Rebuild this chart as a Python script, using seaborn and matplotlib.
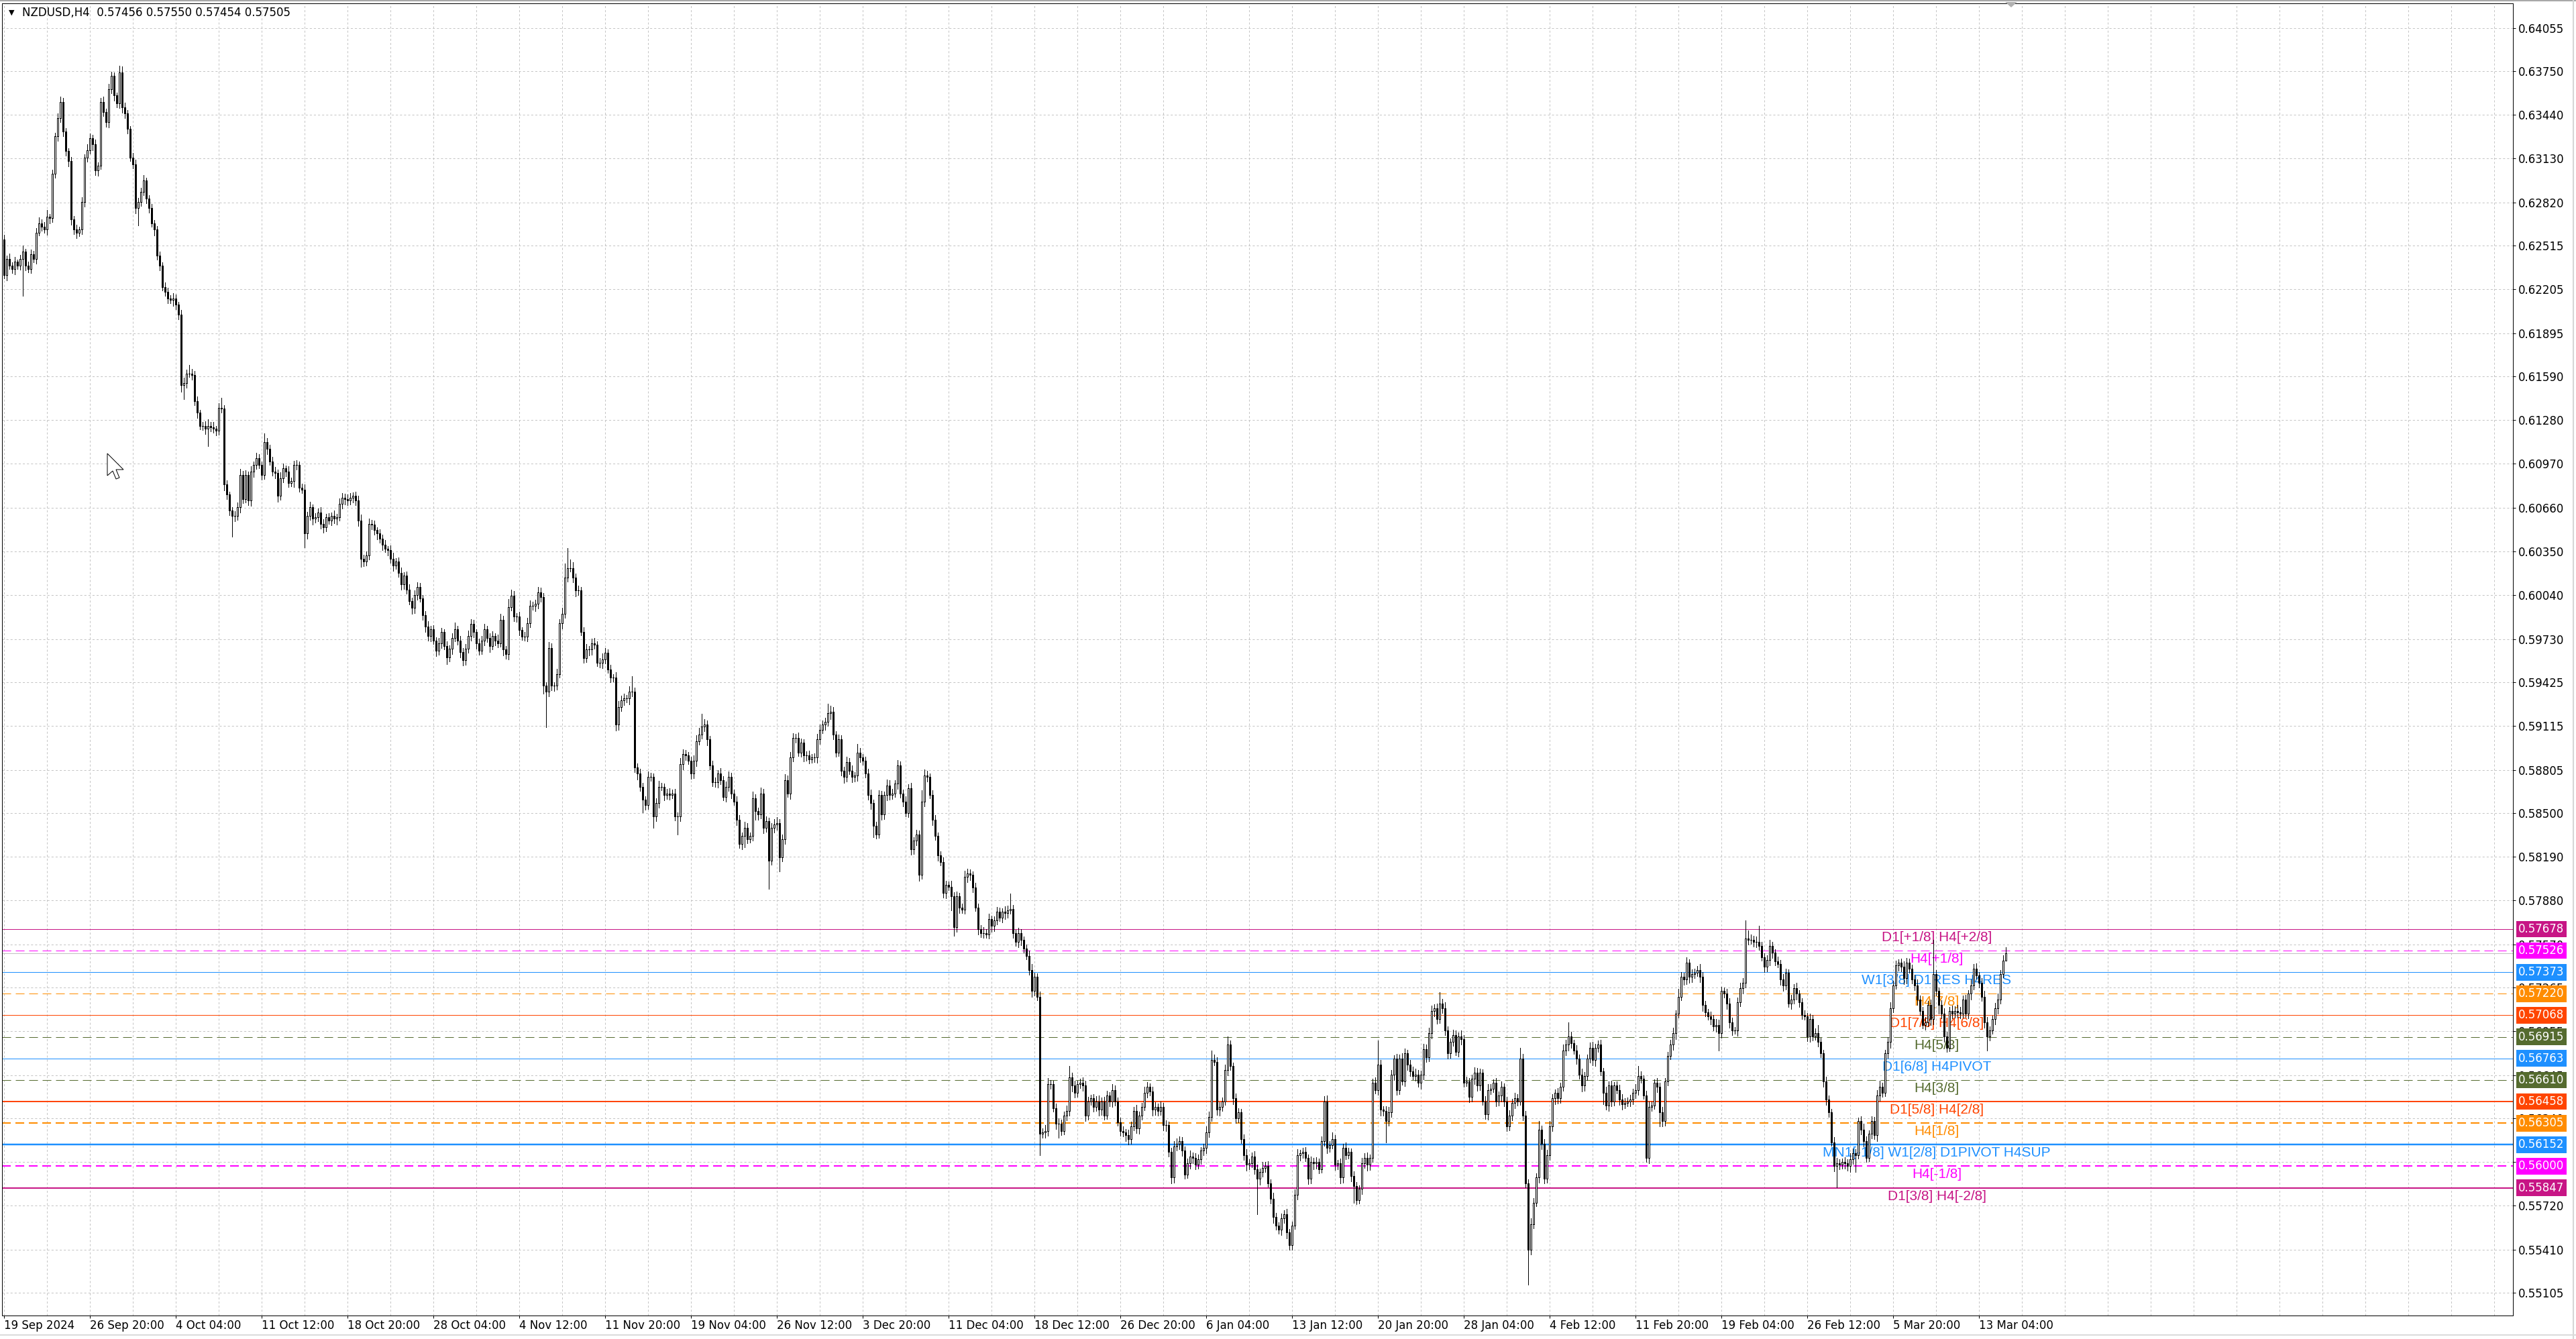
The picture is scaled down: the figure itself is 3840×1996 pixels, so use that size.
import matplotlib
matplotlib.use("Agg")
import matplotlib.pyplot as plt
import numpy as np
import seaborn as sns
from matplotlib.ticker import MultipleLocator
from matplotlib.transforms import blended_transform_factory
from matplotlib.patches import Polygon
from matplotlib.lines import Line2D

# ---- data (prices in points, 1 point = 0.00001) ----
chart_title = "NZDUSD,H4  0.57456 0.57550 0.57454 0.57505"
first_open = 62560

closes = [
    62304, 62420, 62374, 62351, 62400, 62374, 62420, 62470, 62374, 62351,
    62455, 62420, 62605, 62674, 62650, 62628, 62720, 62710, 63021, 63287,
    63415, 63530, 63322, 63183, 63114, 62698, 62628, 62605, 62628, 62825,
    63137, 63190, 63276, 63230, 63045, 63080, 63530, 63460, 63390, 63623,
    63715, 63577, 63520, 63738, 63495, 63450, 63340, 63137, 63091, 62779,
    62825, 62894, 62975, 62848, 62779, 62674, 62628, 62444, 62374, 62223,
    62189, 62142, 62130, 62142, 62096, 62027, 61529, 61541, 61610, 61610,
    61600, 61414, 61333, 61240, 61240, 61217, 61240, 61230, 61217, 61206,
    61368, 61360, 60824, 60755, 60639, 60604, 60604, 60662, 60893, 60720,
    60893, 60709, 60917, 60963, 61009, 60963, 60893, 61125, 61078, 60986,
    60917, 60905, 60743, 60870, 60940, 60917, 60836, 60847, 60963, 60963,
    60801, 60789, 60477, 60604, 60662, 60581, 60593, 60628, 60547, 60523,
    60593, 60570, 60604, 60581, 60593, 60686, 60732, 60720, 60709, 60732,
    60743, 60709, 60570, 60300, 60280, 60320, 60547, 60540, 60500, 60477,
    60442, 60396, 60370, 60361, 60300, 60250, 60280, 60200, 60120, 60180,
    60080, 60000, 59950, 60040, 60100, 60020, 59900, 59820, 59750, 59800,
    59720, 59650, 59700, 59780, 59680, 59600, 59660, 59740, 59800, 59720,
    59640, 59580, 59660, 59750, 59840, 59780, 59700, 59650, 59720, 59800,
    59740, 59680, 59750, 59720, 59702, 59864, 59656, 59622, 59957, 60038,
    59888, 59888, 59795, 59749, 59749, 59841, 59968, 59968, 59980, 60061,
    60026, 59402, 59356, 59668, 59402, 59402, 59483, 59841, 59911, 60165,
    60234, 60234, 60165, 60073, 60073, 59783, 59598, 59656, 59656, 59702,
    59691, 59564, 59564, 59587, 59633, 59517, 59460, 59460, 59124, 59251,
    59298, 59309, 59309, 59356, 59356, 58824, 58777, 58685, 58592, 58558,
    58754, 58754, 58477, 58569, 58685, 58685, 58627, 58638, 58627, 58638,
    58477, 58477, 58847, 58916, 58905, 58870, 58777, 58870, 59009, 59055,
    59113, 59124, 59020, 58835, 58719, 58719, 58777, 58731, 58615, 58685,
    58754, 58638, 58581, 58453, 58280, 58338, 58396, 58315, 58338, 58604,
    58511, 58488, 58638, 58396, 58442, 58164, 58396, 58419, 58430, 58187,
    58315, 58731, 58638, 58893, 59032, 59032, 58928, 58997, 58905, 58905,
    58881, 58893, 58893, 59020, 59090, 59124, 59147, 59205, 59217, 59055,
    58928, 59020, 58800, 58754, 58858, 58800, 58754, 58766, 58928, 58893,
    58870, 58777, 58627, 58569, 58407, 58349, 58627, 58488, 58627, 58696,
    58627, 58638, 58708, 58835, 58638, 58581, 58500, 58673, 58245, 58303,
    58349, 58060, 58581, 58766, 58754, 58627, 58453, 58338, 58199, 58153,
    57933, 57991, 57979, 57910, 57690, 57910, 57829, 57817, 58049, 58072,
    58060, 57970, 57830, 57680, 57650, 57650, 57640, 57750, 57700, 57740,
    57800, 57760, 57800, 57790, 57810, 57820, 57650, 57590, 57650, 57600,
    57540, 57490, 57390, 57240, 57340, 57200, 56230, 56240, 56250, 56580,
    56580, 56410, 56300, 56300, 56250, 56360, 56390, 56630, 56570, 56520,
    56580, 56590, 56570, 56360, 56460, 56480, 56420, 56460, 56400, 56460,
    56360, 56500, 56460, 56540, 56460, 56310, 56250, 56240, 56220, 56190,
    56280, 56390, 56270, 56360, 56420, 56520, 56560, 56530, 56400, 56420,
    56390, 56420, 56290, 56290, 56100, 55920, 56140, 56160, 56180, 56110,
    55940, 56020, 56070, 56060, 56010, 56050, 56110, 56130, 56240, 56350,
    56750, 56740, 56400, 56420, 56460, 56680, 56860, 56710, 56480, 56340,
    56380, 56190, 56080, 56010, 56020, 56070, 55980, 55910, 55960, 55990,
    56000, 55880, 55770, 55640, 55580, 55550, 55630, 55660, 55530, 55440,
    55580, 55800, 56080, 56090, 56100, 56060, 55910, 56030, 56020, 56030,
    55980, 56180, 56460, 56130, 56150, 56190, 56010, 56020, 55920, 56130,
    56080, 56100, 55930, 55860, 55760, 55840, 56020, 56060, 56010, 56060,
    56590, 56540, 56720, 56400, 56390, 56320, 56380, 56650, 56760, 56540,
    56760, 56600, 56800, 56720, 56670, 56640, 56650, 56590, 56650, 56830,
    56770, 56940, 57100, 57120, 57040, 57150, 57120, 56960, 56800, 56880,
    56930, 56810, 56920, 56900, 56590, 56600, 56490, 56620, 56660, 56570,
    56660, 56460, 56370, 56540, 56550, 56590, 56460, 56500, 56560, 56460,
    56280, 56360, 56450, 56480, 56460, 56760, 56360, 55880, 55410, 55590,
    55740, 55920, 56260, 56160, 55910, 56080, 56280, 56480, 56520, 56480,
    56560, 56820, 56860, 56920, 56870, 56820, 56760, 56650, 56570, 56640,
    56760, 56840, 56750, 56840, 56860, 56670, 56520, 56430, 56570, 56460,
    56570, 56540, 56470, 56440, 56450, 56460, 56470, 56520, 56540, 56640,
    56620, 56500, 56060, 56420, 56430, 56590, 56560, 56380, 56320, 56600,
    56780, 56860, 56940, 57080, 57200, 57340, 57320, 57440, 57340, 57360,
    57370, 57390, 57340, 57140, 57090, 57060, 57040, 56990, 57000, 56940,
    57240, 57220, 57150, 57020, 56960, 56960, 57160, 57260, 57300, 57610,
    57600, 57600, 57590, 57590, 57560, 57480, 57410, 57460, 57560, 57510,
    57450, 57430, 57320, 57280, 57370, 57150, 57180, 57260, 57220, 57160,
    57070, 57060, 56920, 57040, 56920, 56940, 56880, 56800, 56600, 56470,
    56380, 56170, 56000, 56020, 56010, 56030, 56020, 56000, 56050, 56090,
    56080, 56320, 56260, 56180, 56060, 56230, 56320, 56220, 56500, 56560,
    56520, 56800, 56880, 57120, 57280, 57420, 57440, 57410, 57330, 57440,
    57400, 57320, 57280, 57180, 57100, 57000, 57020, 57140, 57040, 57360,
    57240, 57140, 57080, 56920, 56840, 57100, 57080, 57100, 57090, 57080,
    57180, 57080, 57220, 57280, 57400, 57350, 57300, 57200, 57020, 56920,
    56960, 57040, 57120, 57180, 57360, 57456, 57505,
]

upper_wick = [
    30, 25, 40, 20, 35, 15, 30, 45, 20, 25,
    30, 20, 35, 40, 25, 30, 45, 20, 30, 25,
    35, 40, 30, 25, 20, 30, 25, 35, 20, 30,
    25, 40, 30, 20, 35, 25, 30, 40, 25, 35,
    30, 25, 20, 50, 45, 30, 25, 20, 35, 30,
    25, 30, 40, 20, 25, 30, 20, 25, 30, 20,
    30, 25, 20, 35, 25, 20, 30, 40, 25, 60,
    30, 25, 35, 20, 25, 30, 45, 25, 35, 20,
    30, 70, 25, 30, 20, 25, 30, 35, 40, 25,
    30, 20, 35, 25, 40, 30, 25, 60, 30, 25,
    35, 30, 25, 40, 30, 20, 35, 25, 30, 35,
    25, 30, 35, 25, 40, 20, 30, 25, 35, 30,
    25, 30, 20, 35, 25, 40, 30, 25, 35, 30,
    25, 30, 35, 40, 25, 30, 35, 25, 30, 20,
    30, 25, 35, 20, 30, 40, 25, 30, 35, 25,
    30, 40, 25, 35, 30, 25, 20, 30, 35, 25,
    30, 25, 40, 30, 20, 35, 25, 30, 45, 25,
    30, 25, 35, 40, 30, 25, 20, 35, 30, 40,
    25, 30, 35, 20, 40, 45, 30, 25, 55, 40,
    30, 25, 35, 20, 30, 40, 35, 25, 30, 40,
    35, 30, 25, 40, 30, 25, 35, 30, 40, 100,
    140, 60, 40, 30, 35, 25, 30, 40, 25, 30,
    35, 25, 30, 40, 35, 25, 30, 20, 35, 40,
    30, 35, 25, 40, 110, 30, 25, 35, 30, 25,
    40, 30, 25, 35, 40, 30, 25, 30, 35, 25,
    30, 25, 40, 35, 30, 25, 30, 35, 40, 45,
    90, 40, 30, 25, 35, 30, 25, 40, 30, 35,
    40, 30, 25, 35, 30, 25, 40, 30, 25, 45,
    30, 25, 40, 30, 35, 25, 30, 35, 40, 25,
    30, 45, 35, 40, 30, 25, 35, 30, 25, 30,
    35, 25, 30, 40, 35, 30, 25, 70, 40, 30,
    25, 35, 30, 25, 40, 30, 35, 25, 60, 30,
    25, 30, 35, 40, 25, 30, 35, 30, 25, 40,
    35, 30, 25, 40, 30, 25, 35, 30, 40, 25,
    30, 25, 80, 40, 30, 25, 35, 30, 25, 30,
    35, 30, 25, 40, 30, 35, 25, 30, 40, 35,
    30, 25, 35, 30, 25, 40, 30, 35, 25, 30,
    35, 30, 25, 40, 35, 110, 30, 25, 35, 30,
    25, 30, 35, 40, 30, 25, 35, 30, 40, 45,
    30, 25, 35, 40, 30, 25, 40, 80, 30, 35,
    25, 30, 40, 35, 30, 25, 30, 35, 40, 25,
    30, 35, 25, 40, 30, 25, 35, 30, 25, 40,
    35, 30, 45, 25, 30, 40, 35, 25, 30, 35,
    25, 40, 30, 35, 25, 30, 40, 35, 30, 25,
    30, 35, 40, 25, 30, 35, 25, 30, 40, 35,
    70, 40, 30, 35, 25, 40, 60, 30, 25, 35,
    30, 25, 35, 40, 30, 25, 35, 30, 25, 40,
    30, 35, 25, 40, 30, 25, 35, 30, 40, 25,
    30, 35, 40, 25, 30, 35, 25, 40, 30, 35,
    25, 30, 35, 40, 30, 50, 30, 25, 35, 30,
    40, 30, 25, 35, 30, 25, 40, 30, 35, 25,
    30, 40, 170, 30, 25, 35, 40, 30, 25, 35,
    30, 40, 35, 25, 30, 35, 40, 30, 25, 35,
    30, 40, 35, 25, 30, 80, 35, 40, 30, 25,
    35, 30, 25, 40, 30, 35, 25, 30, 40, 35,
    30, 25, 35, 40, 30, 25, 35, 30, 40, 25,
    30, 35, 25, 40, 30, 80, 35, 30, 25, 40,
    35, 30, 60, 25, 30, 35, 40, 30, 25, 35,
    30, 40, 35, 100, 30, 25, 35, 30, 40, 25,
    30, 35, 40, 25, 30, 35, 25, 40, 30, 35,
    25, 30, 35, 40, 30, 25, 35, 30, 40, 70,
    30, 25, 35, 40, 30, 25, 35, 30, 40, 25,
    30, 35, 40, 25, 55, 35, 30, 40, 25, 35,
    30, 25, 40, 35, 30, 25, 35, 30, 40, 35,
    30, 25, 35, 40, 30, 25, 35, 40, 30, 130,
    60, 40, 30, 35, 110, 30, 25, 35, 40, 30,
    25, 35, 30, 40, 30, 25, 35, 30, 40, 25,
    30, 35, 25, 40, 30, 35, 60, 30, 25, 35,
    30, 25, 35, 40, 30, 25, 35, 30, 40, 35,
    30, 25, 35, 40, 30, 25, 35, 30, 40, 45,
    30, 25, 35, 40, 30, 35, 25, 30, 40, 35,
    30, 25, 35, 40, 30, 25, 35, 30, 40, 240,
    30, 25, 35, 40, 30, 25, 35, 30, 40, 35,
    30, 35, 25, 40, 30, 35, 25, 30, 40, 35,
    30, 25, 35, 40, 30, 35, 45,
]

lower_wick = [
    20, 35, 25, 30, 40, 25, 30, 260, 35, 25,
    30, 25, 35, 20, 30, 25, 35, 40, 30, 25,
    30, 25, 35, 30, 40, 35, 30, 40, 25, 30,
    35, 30, 25, 40, 30, 35, 25, 30, 35, 40,
    30, 35, 25, 30, 40, 35, 30, 25, 30, 35,
    120, 30, 25, 35, 30, 25, 40, 30, 35, 25,
    30, 35, 25, 40, 30, 35, 50, 100, 30, 25,
    35, 30, 40, 25, 30, 35, 120, 30, 25, 35,
    30, 25, 40, 35, 30, 150, 40, 30, 35, 30,
    25, 30, 35, 40, 30, 25, 35, 30, 40, 25,
    30, 35, 40, 25, 30, 35, 30, 25, 40, 35,
    30, 25, 100, 35, 30, 40, 25, 30, 35, 40,
    30, 25, 35, 30, 40, 25, 30, 35, 30, 25,
    35, 30, 40, 60, 35, 30, 25, 35, 30, 40,
    30, 35, 25, 40, 30, 35, 25, 30, 40, 35,
    30, 25, 40, 35, 30, 25, 35, 40, 30, 35,
    25, 40, 30, 35, 25, 45, 30, 35, 25, 30,
    40, 35, 30, 25, 30, 35, 40, 30, 25, 35,
    30, 40, 25, 35, 30, 25, 40, 30, 35, 25,
    30, 35, 40, 25, 30, 35, 25, 30, 40, 35,
    30, 60, 250, 30, 35, 40, 30, 25, 35, 30,
    30, 25, 35, 40, 30, 25, 35, 30, 40, 35,
    30, 25, 35, 40, 30, 25, 35, 30, 40, 35,
    30, 35, 25, 40, 30, 35, 40, 30, 90, 35,
    30, 25, 80, 35, 30, 25, 40, 30, 35, 25,
    30, 130, 35, 40, 30, 25, 35, 30, 40, 25,
    30, 35, 40, 25, 30, 35, 40, 30, 25, 35,
    30, 35, 25, 40, 30, 35, 80, 30, 25, 35,
    60, 35, 25, 40, 30, 200, 30, 35, 40, 100,
    30, 35, 25, 40, 30, 35, 25, 30, 40, 35,
    30, 25, 35, 40, 30, 25, 35, 30, 40, 35,
    30, 25, 35, 40, 30, 25, 35, 30, 40, 35,
    30, 25, 35, 40, 80, 30, 25, 35, 30, 40,
    35, 30, 25, 40, 30, 35, 25, 30, 40, 35,
    30, 40, 25, 35, 30, 25, 40, 30, 35, 25,
    30, 35, 25, 100, 60, 30, 35, 25, 30, 40,
    35, 30, 25, 40, 30, 35, 25, 30, 40, 35,
    30, 25, 35, 40, 30, 25, 35, 30, 40, 35,
    30, 25, 35, 40, 30, 25, 150, 30, 40, 35,
    30, 25, 35, 100, 30, 25, 35, 30, 40, 35,
    30, 25, 35, 40, 30, 25, 35, 30, 40, 35,
    30, 25, 35, 40, 30, 25, 35, 30, 40, 35,
    30, 25, 35, 40, 30, 25, 35, 30, 40, 35,
    30, 25, 35, 40, 30, 40, 35, 30, 40, 35,
    30, 25, 35, 40, 30, 25, 35, 30, 40, 35,
    30, 25, 35, 40, 30, 25, 35, 30, 40, 35,
    30, 25, 35, 40, 30, 25, 35, 250, 40, 35,
    30, 25, 35, 40, 30, 25, 35, 30, 40, 30,
    30, 25, 35, 40, 30, 25, 35, 30, 40, 35,
    30, 25, 35, 40, 30, 25, 35, 30, 40, 35,
    30, 25, 35, 120, 30, 25, 35, 30, 40, 35,
    30, 25, 35, 40, 30, 150, 35, 30, 40, 35,
    30, 25, 35, 40, 30, 25, 35, 30, 40, 35,
    30, 25, 35, 40, 30, 25, 35, 30, 40, 35,
    30, 25, 35, 40, 30, 25, 35, 30, 40, 35,
    30, 25, 35, 40, 30, 25, 35, 30, 40, 35,
    30, 25, 35, 40, 30, 25, 35, 30, 250, 35,
    30, 25, 35, 40, 30, 25, 35, 30, 40, 35,
    30, 25, 35, 40, 30, 25, 35, 30, 40, 35,
    30, 25, 35, 40, 30, 25, 80, 30, 40, 35,
    30, 25, 35, 40, 30, 25, 35, 30, 40, 35,
    30, 25, 30, 40, 30, 25, 35, 100, 40, 35,
    30, 25, 35, 40, 30, 25, 35, 30, 40, 35,
    30, 25, 35, 40, 30, 25, 35, 30, 40, 120,
    30, 25, 35, 40, 30, 25, 35, 30, 40, 35,
    30, 25, 35, 40, 30, 25, 35, 30, 40, 35,
    30, 25, 35, 40, 30, 25, 35, 30, 40, 35,
    30, 25, 35, 40, 30, 25, 35, 30, 40, 35,
    30, 25, 35, 150, 30, 25, 35, 30, 40, 35,
    120, 25, 35, 40, 30, 25, 35, 30, 40, 35,
    30, 25, 35, 40, 30, 25, 35, 30, 40, 35,
    30, 25, 35, 40, 30, 25, 35, 30, 40, 35,
    30, 60, 35, 40, 30, 25, 35, 30, 40, 35,
    30, 25, 35, 40, 30, 25, 35, 30, 40, 100,
    30, 25, 35, 40, 30, 25, 2,
]

date_ticks = [0, 32, 64, 96, 128, 160, 192, 224, 256, 288, 320, 352,
              384, 416, 448, 480, 512, 544, 576, 608, 640, 672, 704, 736]
date_labels = ["19 Sep 2024", "26 Sep 20:00", "4 Oct 04:00", "11 Oct 12:00",
               "18 Oct 20:00", "28 Oct 04:00", "4 Nov 12:00", "11 Nov 20:00",
               "19 Nov 04:00", "26 Nov 12:00", "3 Dec 20:00", "11 Dec 04:00",
               "18 Dec 12:00", "26 Dec 20:00", "6 Jan 04:00", "13 Jan 12:00",
               "20 Jan 20:00", "28 Jan 04:00", "4 Feb 12:00", "11 Feb 20:00",
               "19 Feb 04:00", "26 Feb 12:00", "5 Mar 20:00", "13 Mar 04:00"]

price_ticks = [0.64055, 0.63750, 0.63440, 0.63130, 0.62820, 0.62515, 0.62205,
               0.61895, 0.61590, 0.61280, 0.60970, 0.60660, 0.60350, 0.60040,
               0.59730, 0.59425, 0.59115, 0.58805, 0.58500, 0.58190, 0.57880,
               0.57570, 0.57265, 0.56955, 0.56645, 0.56340, 0.56030, 0.55720,
               0.55410, 0.55105]

level_prices = [0.57678, 0.57526, 0.57373, 0.57220, 0.57068, 0.56915, 0.56763,
                0.56610, 0.56458, 0.56305, 0.56152, 0.56000, 0.55847]
level_names = ["D1[+1/8] H4[+2/8]", "H4[+1/8]", "W1[3/8] D1RES H4RES", "H4[7/8]",
               "D1[7/8] H4[6/8]", "H4[5/8]", "D1[6/8] H4PIVOT", "H4[3/8]",
               "D1[5/8] H4[2/8]", "H4[1/8]", "MN1[-1/8] W1[2/8] D1PIVOT H4SUP",
               "H4[-1/8]", "D1[3/8] H4[-2/8]"]
bid_price = 0.57505

# ---- look ----
level_colors = ["#C71585", "#FF00FF", "#1E90FF", "#FF8C00", "#FF4500", "#556B2F",
                "#1E90FF", "#556B2F", "#FF4500", "#FF8C00", "#1E90FF", "#FF00FF",
                "#C71585"]
level_dashed = [False, True, False, True, False, True, False, True, False, True,
                False, True, False]
level_px = [1, 1, 1, 1, 1, 1, 1, 1, 2, 2, 2.5, 2, 2]

sns.set_theme(style="white")
plt.rcParams['font.family'] = ['DejaVu Sans']
plt.rcParams['lines.scale_dashes'] = False

PX = 0.72  # one pixel in points at dpi 100
W, H = 3840, 1996

close = np.array(closes, dtype=float) / 1e5
openp = np.concatenate([[first_open / 1e5], close[:-1]])
n = min(len(close), len(upper_wick), len(lower_wick))
close, openp = close[:n], openp[:n]
high = np.maximum(openp, close) + np.array(upper_wick[:n]) / 1e5
low = np.minimum(openp, close) - np.array(lower_wick[:n]) / 1e5
x = np.arange(n)
bull = close >= openp

fig = plt.figure(figsize=(W / 100, H / 100), dpi=100, facecolor='white')
ax = fig.add_axes([3 / W, 35 / H, 3743 / W, 1956 / H])
ax.set_facecolor('white')
ax.set_xlim(-0.75, 935)
ax.set_ylim(0.549436, 0.642287)

# grid
ax.set_axisbelow(True)
ax.xaxis.set_minor_locator(MultipleLocator(16))
grid_kw = dict(color='#c4c4c4', linewidth=PX, linestyle=(0, (2.2, 2.2)))
ax.grid(True, axis='x', which='both', **grid_kw)
ax.grid(True, axis='y', which='major', **grid_kw)

# Murrey-style levels
for p, c, d, w in zip(level_prices, level_colors, level_dashed, level_px):
    ax.axhline(p, color=c, lw=w * PX, ls=(0, (9.4, 5.0)) if d else '-', zorder=1.5)
ax.axhline(bid_price, color='#c0c0c0', lw=PX, zorder=1.4)

for p, c, name in zip(level_prices, level_colors, level_names):
    ax.annotate(name, xy=(720.25, p), xytext=(0, -3), textcoords='offset pixels',
                ha='center', va='top', color=c, fontsize=15,
                family=['Liberation Sans', 'DejaVu Sans'], zorder=2.5)

# candles
ax.vlines(x, low, high, color='black', lw=PX, zorder=3, antialiased=False)
ax.bar(x[bull], np.maximum(close - openp, 1e-7)[bull], bottom=openp[bull], width=0.5,
       color='white', edgecolor='black', linewidth=PX, zorder=4, antialiased=False)
ax.bar(x[~bull], (openp - close)[~bull], bottom=close[~bull], width=0.5,
       color='black', edgecolor='black', linewidth=PX, zorder=4, antialiased=False)

# axes, ticks
for s in ax.spines.values():
    s.set_color('black')
    s.set_linewidth(PX)
    s.set_visible(True)

ax.set_yticks(price_ticks)
ax.set_yticklabels([f"{v:.5f}" for v in price_ticks])
ax.yaxis.tick_right()
ax.tick_params(axis='y', which='major', direction='out', length=4 * PX, width=PX,
               pad=4 * PX, labelsize=12, colors='black', right=True, left=False)
ax.set_xticks(date_ticks)
ax.set_xticklabels(date_labels, ha='left')
ax.tick_params(axis='x', which='major', direction='out', length=4 * PX, width=PX,
               pad=2 * PX, labelsize=12, colors='black', bottom=True)
ax.tick_params(axis='x', which='minor', length=0, bottom=False)

# price boxes on the right scale
tr = blended_transform_factory(ax.transAxes, ax.transData)
for p, c in zip(level_prices, level_colors):
    ax.annotate(f"{p:.5f}", xy=(1, p), xycoords=tr, xytext=(8, 0),
                textcoords='offset pixels', ha='left', va='center', fontsize=12,
                color='white', annotation_clip=False, zorder=6,
                bbox=dict(boxstyle='square,pad=0.2', fc=c, ec='none'))

# header
fig.text(13 / W, 1 - 19 / H, "\u25BC", fontsize=8, va='center', ha='left', color='black')
fig.text(33 / W, 1 - 19 / H, chart_title, fontsize=12, va='center', ha='left', color='black')

# window decorations: borders, shift marker, mouse cursor
def px_pts(pts):
    return [(px / W, 1 - py / H) for px, py in pts]

fig.add_artist(Line2D([0, 1], [1 - 1 / H, 1 - 1 / H], color='#a8a8a8', lw=1.5))
fig.add_artist(Line2D([3836 / W, 3836 / W], [0, 1], color='#d6d6d6', lw=1.5))
fig.add_artist(Line2D([0, 1], [6 / H, 6 / H], color='#dcdcdc', lw=1.5))
fig.add_artist(Polygon(px_pts([(2989, 3), (3007, 3), (2998, 11)]), closed=True,
                       transform=fig.transFigure, fc='#b0b0b0', ec='none'))
cx, cy = 160, 676
cursor = [(0, 0), (0, 33), (8, 26), (13, 38), (18, 36), (13, 24), (24, 24)]
fig.add_artist(Polygon(px_pts([(cx + a, cy + b) for a, b in cursor]), closed=True,
                       transform=fig.transFigure, fc='white', ec='black', lw=PX))

fig.savefig("out.png", dpi=100, facecolor='white')
